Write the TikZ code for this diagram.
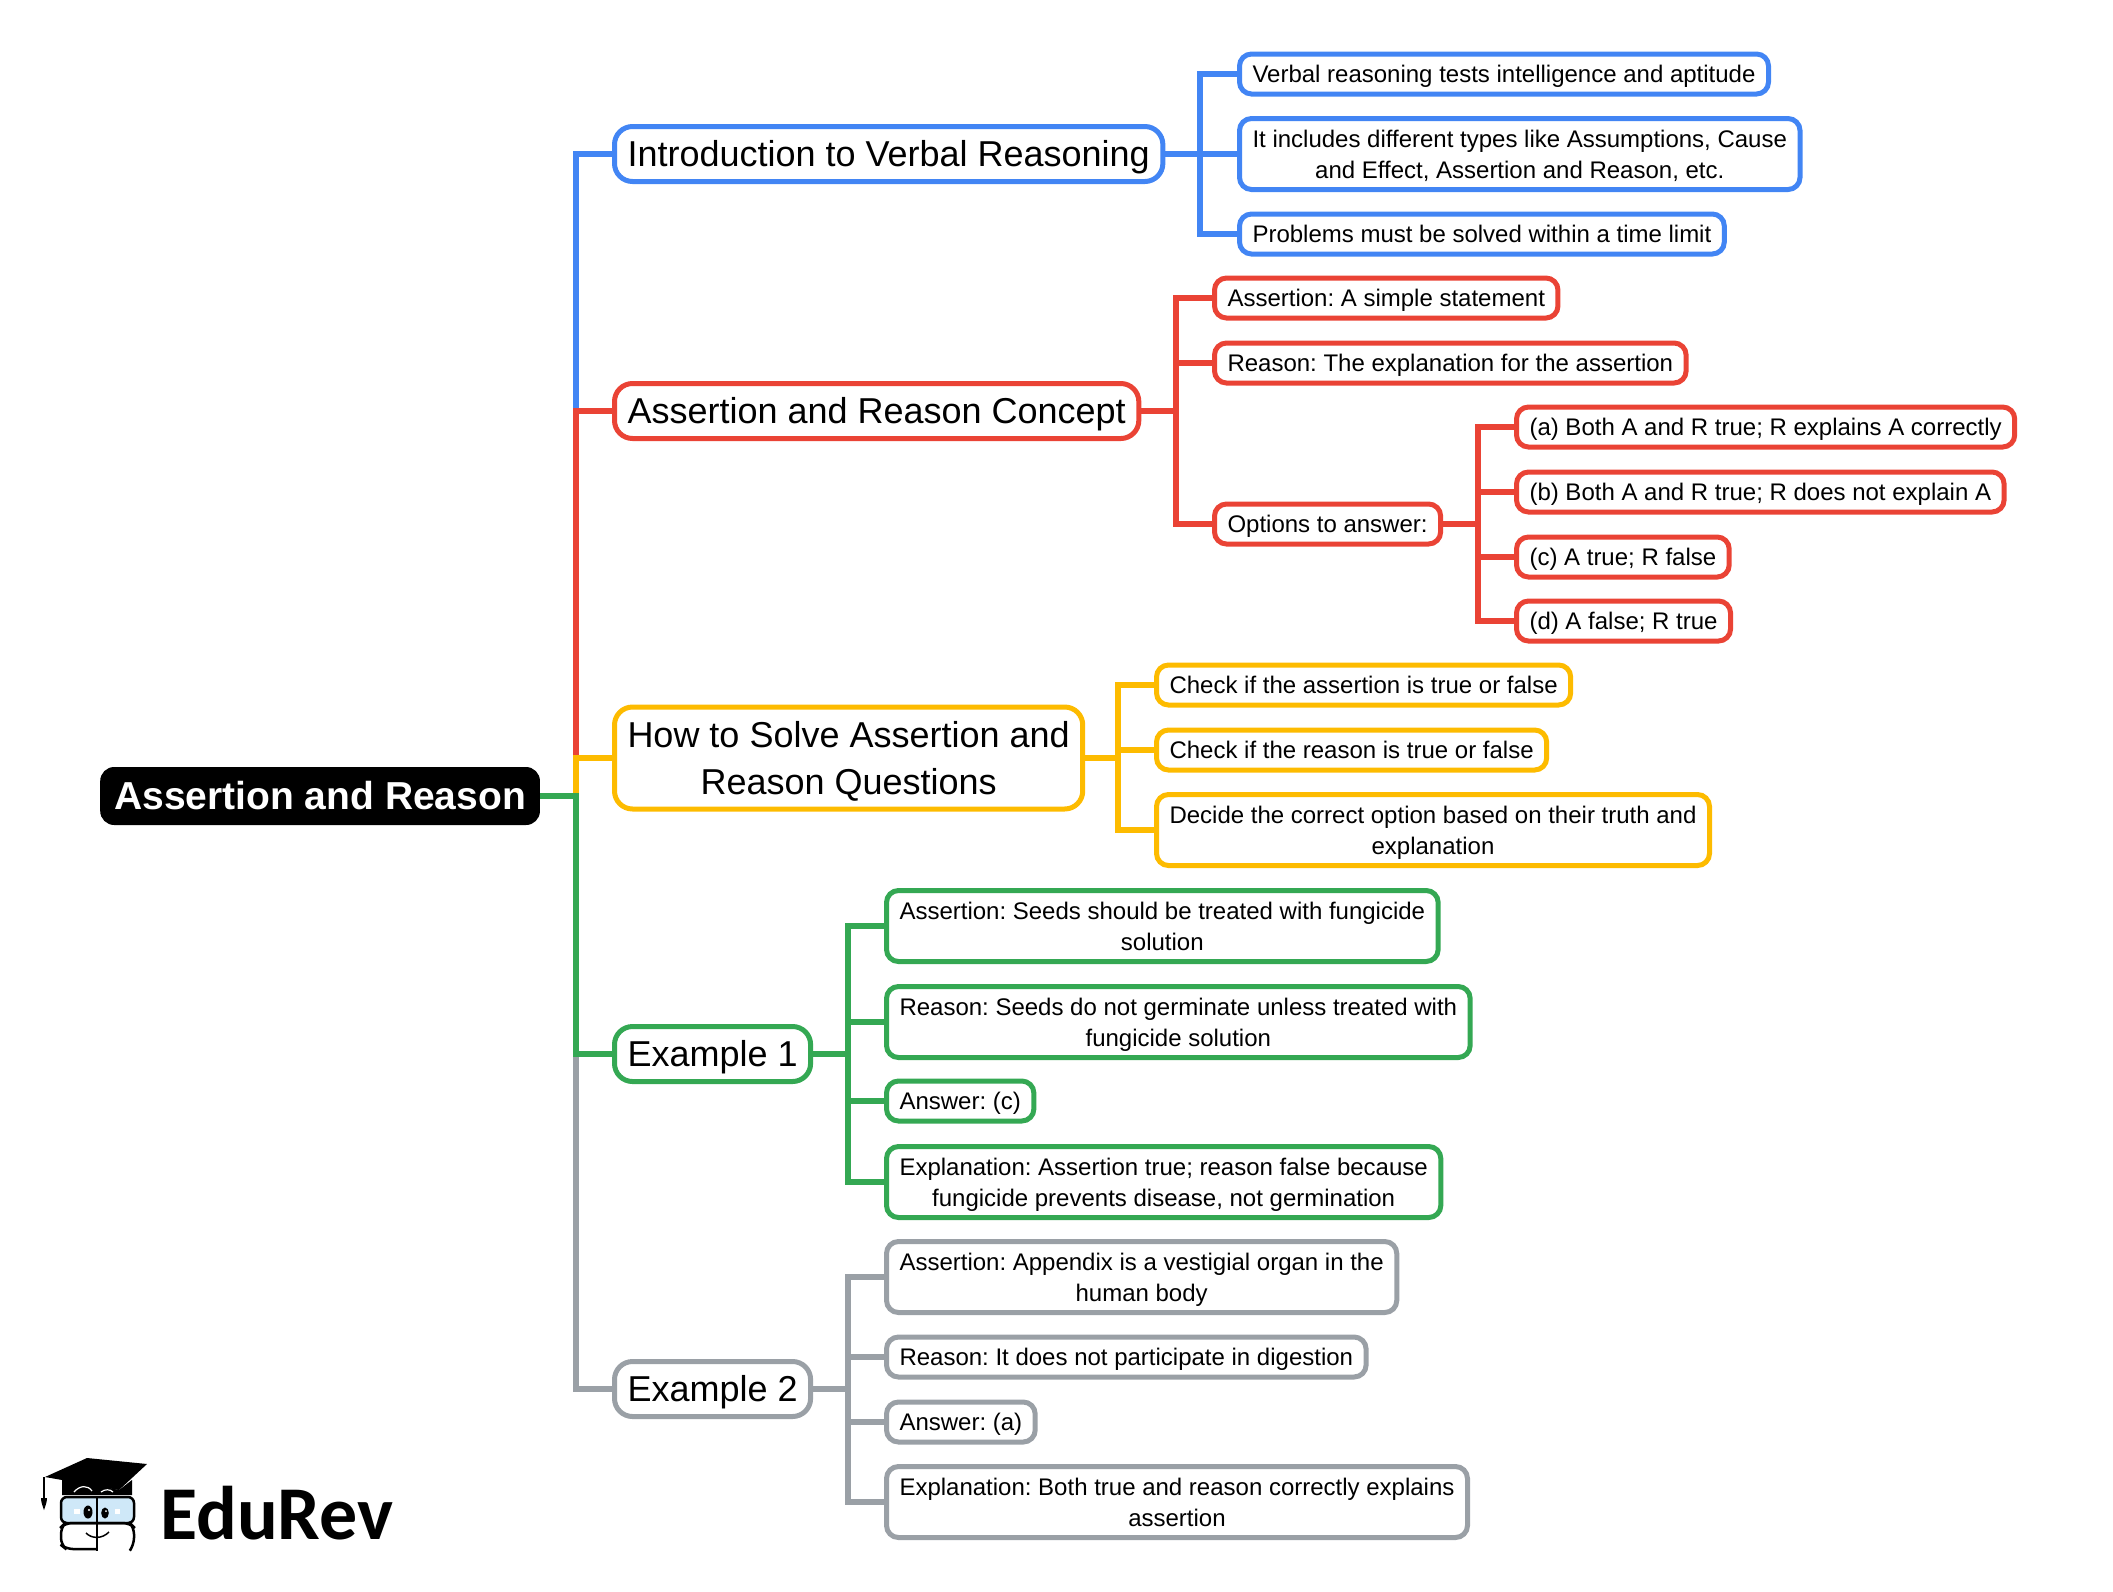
\documentclass[tikz,border=0pt]{standalone}
\usepackage{fontspec}
\setmainfont{Liberation Sans}
\newfontfamily\logofont{Carlito}
\definecolor{blueline}{HTML}{4285F4}
\definecolor{redline}{HTML}{EA4335}
\definecolor{yellowline}{HTML}{FDBB00}
\definecolor{greenline}{HTML}{34A853}
\definecolor{greyline}{HTML}{9AA0A6}
\definecolor{glasscol}{HTML}{CFE8F8}
\tikzset{
    rootnode/.style={rectangle, fill=black, text=white, rounded corners=14pt, anchor=west, inner xsep=14pt, minimum height=58pt, font=\fontsize{39}{48}\selectfont\bfseries},
    topic/.style={rectangle, draw=#1, line width=5pt, fill=white, rounded corners=18pt, anchor=west, align=center, inner xsep=13pt, inner ysep=4pt, font=\fontsize{36}{47}\selectfont, text height=36pt, text depth=11pt},
    topictwo/.style={topic=#1, text height=83pt},
    leaf/.style={rectangle, draw=#1, line width=5pt, fill=white, rounded corners=12pt, anchor=west, align=center, inner xsep=13pt, inner ysep=4.5pt, font=\fontsize{24}{31}\selectfont, text height=24pt, text depth=7pt},
    leaftwo/.style={leaf=#1, text height=55pt},
    branch/.style={line width=6pt, #1}
}
\begin{document}
\frenchspacing
\begin{tikzpicture}[x=1pt, y=-1pt]
\useasboundingbox (0,0) rectangle (2113,1591);

% Root
\node[rootnode] (root) at (100,796) {Assertion and Reason};
\coordinate (hub) at (576,796);

% Main topics
\node[topic=blueline] (intro) at (612,154) {Introduction to Verbal Reasoning};
\node[topic=redline] (concept) at (612,411) {Assertion and Reason Concept};
\node[topictwo=yellowline] (solve) at (612,758) {How to Solve Assertion and\\Reason Questions};
\node[topic=greenline] (exone) at (612,1054) {Example 1};
\node[topic=greyline] (extwo) at (612,1389) {Example 2};

% Introduction
\node[leaf=blueline] (verbal) at (1237,74) {Verbal reasoning tests intelligence and aptitude};
\node[leaftwo=blueline] (types) at (1237,154) {It includes different types like Assumptions, Cause\\and Effect, Assertion and Reason, etc.};
\node[leaf=blueline] (limit) at (1237,234) {Problems must be solved within a time limit};
\coordinate (introhub) at (1200,154);

% Concept
\node[leaf=redline] (assert) at (1212,298) {Assertion: A simple statement};
\node[leaf=redline] (reason) at (1212,363) {Reason: The explanation for the assertion};
\node[leaf=redline] (options) at (1212,524) {Options to answer:};
\coordinate (concepthub) at (1176,411);

% Options
\node[leaf=redline] (opta) at (1514,427) {(a) Both A and R true; R explains A correctly};
\node[leaf=redline] (optb) at (1514,492) {(b) Both A and R true; R does not explain A};
\node[leaf=redline] (optc) at (1514,557) {(c) A true; R false};
\node[leaf=redline] (optd) at (1514,621) {(d) A false; R true};
\coordinate (optionshub) at (1478,524);

% How to solve
\node[leaf=yellowline] (checka) at (1154,685) {Check if the assertion is true or false};
\node[leaf=yellowline] (checkr) at (1154,750) {Check if the reason is true or false};
\node[leaftwo=yellowline] (decide) at (1154,830) {Decide the correct option based on their truth and\\explanation};
\coordinate (solvehub) at (1118,758);

% Example 1
\node[leaftwo=greenline] (onea) at (884,926) {Assertion: Seeds should be treated with fungicide\\solution};
\node[leaftwo=greenline] (oner) at (884,1022) {Reason: Seeds do not germinate unless treated with\\fungicide solution};
\node[leaf=greenline] (oneans) at (884,1101) {Answer: (c)};
\node[leaftwo=greenline] (oneexp) at (884,1182) {Explanation: Assertion true; reason false because\\fungicide prevents disease, not germination};
\coordinate (onehub) at (848,1054);

% Example 2
\node[leaftwo=greyline] (twoa) at (884,1277) {Assertion: Appendix is a vestigial organ in the\\human body};
\node[leaf=greyline] (twor) at (884,1357) {Reason: It does not participate in digestion};
\node[leaf=greyline] (twoans) at (884,1422) {Answer: (a)};
\node[leaftwo=greyline] (twoexp) at (884,1502) {Explanation: Both true and reason correctly explains\\assertion};
\coordinate (twohub) at (848,1389);

% Connections
\draw[branch=blueline] (hub) |- (intro.west);
\draw[branch=redline] (hub) |- (concept.west);
\draw[branch=yellowline] (hub) |- (solve.west);
\draw[branch=greyline] (hub) |- (extwo.west);
\draw[branch=greenline] (root.east) -- (hub) |- (exone.west);

\draw[branch=blueline] (intro.east) -- (types.west);
\foreach \n in {verbal,limit} {
    \draw[branch=blueline] (introhub) |- (\n.west);
}
\draw[branch=redline] (concept.east) -- (concepthub);
\foreach \n in {assert,reason,options} {
    \draw[branch=redline] (concepthub) |- (\n.west);
}
\draw[branch=redline] (options.east) -- (optionshub);
\foreach \n in {opta,optb,optc,optd} {
    \draw[branch=redline] (optionshub) |- (\n.west);
}
\draw[branch=yellowline] (solve.east) -- (solvehub);
\foreach \n in {checka,checkr,decide} {
    \draw[branch=yellowline] (solvehub) |- (\n.west);
}
\draw[branch=greenline] (exone.east) -- (onehub);
\foreach \n in {onea,oner,oneans,oneexp} {
    \draw[branch=greenline] (onehub) |- (\n.west);
}
\draw[branch=greyline] (extwo.east) -- (twohub);
\foreach \n in {twoa,twor,twoans,twoexp} {
    \draw[branch=greyline] (twohub) |- (\n.west);
}

% Logo
\fill (62,1477) -- (62,1495) -- (132,1495) -- (132,1480) -- (119,1490) -- cycle;
\draw[white, line width=1.2pt] (74,1492) .. controls (80,1485) and (88,1485) .. (92,1491);
\draw[white, line width=1.2pt] (101,1492) .. controls (105,1489) and (110,1489) .. (113,1492);
\fill (45,1477) -- (87,1458) -- (147,1464) -- (119,1490) -- cycle;
\draw[line width=1.5pt] (44,1477) -- (44,1498);
\fill (41,1498) -- (47,1498) .. controls (47,1503) and (45,1506) .. (44,1510) .. controls (43,1506) and (41,1503) .. (41,1498) -- cycle;
\draw[line width=2.5pt, fill=glasscol, rounded corners=6pt] (61,1497) rectangle (134,1523);
\draw[line width=2.5pt, rounded corners=7pt] (97,1549) -- (66,1549) -- (61,1545) -- (61,1527) -- (65,1523) -- (130,1523) -- (134,1527) -- (134,1545) -- (131,1549);
\draw[line width=2pt] (97,1497) -- (97,1551);
\fill (88,1512) ellipse (4.5pt and 6.5pt);
\fill (105,1513) ellipse (3.8pt and 5.5pt);
\fill[white] (89,1510) circle (1.2pt);
\fill[white] (106,1511) circle (1pt);
\fill[white] (74,1509) rectangle (80,1514);
\fill[white] (115,1509) rectangle (120,1514);
\draw[line width=1.5pt] (86,1533) .. controls (92,1539) and (102,1539) .. (109,1532);
\node[anchor=west, inner sep=0pt, font=\logofont\bfseries\fontsize{76}{76}\selectfont] (brand) at (160,1513) {EduRev};
\end{tikzpicture}
\end{document}
